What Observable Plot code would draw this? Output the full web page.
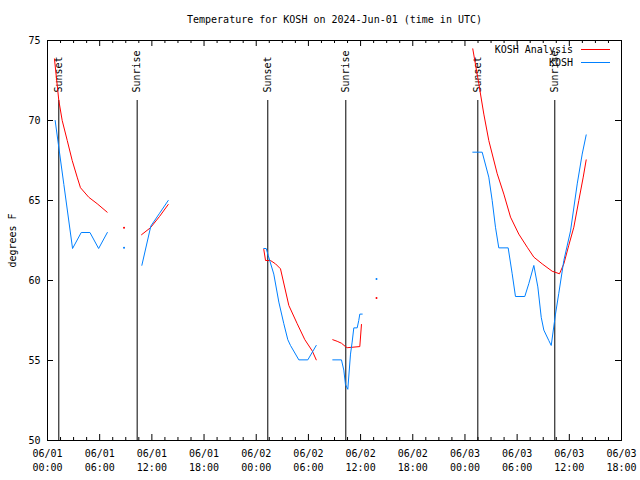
<!DOCTYPE html>
<html><head><meta charset="utf-8">
<script src="https://cdn.jsdelivr.net/npm/d3@7"></script>
<script src="https://cdn.jsdelivr.net/npm/@observablehq/plot@0.6"></script>
<style>body{margin:0;background:#fff}</style>
</head><body><div id="chart"></div>
<script>
const title = "Temperature for KOSH on 2024-Jun-01 (time in UTC)";
const yLabel = "degrees F";
const startUTC = Date.UTC(2024, 5, 1);
const seriesNames = ["KOSH Analysis", "KOSH"];
const seriesColors = ["#ff0000", "#0080ff"];

// hours since 2024-06-01 00:00 UTC; NaN temperature = missing data (gap)
const analysisHours = [0.80,1.30,1.69,2.27,2.84,3.41,3.79,4.75,5.71,6.86, 7.8, 8.80, 9.8,
  10.81,11.84,12.88,13.88, 20,
  24.87,25.07,25.64,26.22,26.79,27.75,28.71,29.59,30.44,30.90, 31.8,
  32.80,33.31,33.80,34.26,34.46,35.91,36.10, 37.0, 37.83, 40,
  48.90,49.59,50.17,50.74,51.71,52.47,53.24,54.19,55.16,55.92,56.88,58.03,58.87,59.37,59.94,60.52,61.09,61.60,61.94];
const analysisTemps = [73.85,71.25,70.0,68.75,67.5,66.46,65.8,65.2,64.8,64.27, NaN, 63.3, NaN,
  62.86,63.3,64.0,64.75, NaN,
  61.94,61.25,61.25,61.04,60.73,58.44,57.3,56.3,55.6,55.04, NaN,
  56.3,56.2,56.08,55.87,55.8,55.87,57.25, NaN, 58.9, NaN,
  74.48,72.3,70.4,68.75,66.67,65.4,63.96,62.9,62.08,61.46,61.04,60.58,60.42,61.04,62.2,63.33,65.0,66.46,67.54];

const obsHours = [0.88,1.88,2.88,3.88,4.88,5.88,6.88, 7.8, 8.80, 9.8,
  10.85,11.88,12.88,13.88, 20,
  24.87,25.15,25.38,26.02,26.60,27.17,27.63,27.94,28.90,29.93,30.90, 31.8,
  32.80,33.80,34.07,34.26,34.53,34.84,35.03,35.22,35.61,35.79,35.91,36.19, 37.0, 37.83, 40,
  48.90,49.98,50.74,51.13,51.51,51.89,52.97,53.43,53.81,54.88,55.34,55.92,56.38,56.77,57.07,57.64,57.92,58.41,58.79,59.37,60.14,60.91,61.48,61.94];
const obsTemps = [70,66,62,63,63,62,63, NaN, 62.05, NaN,
  60.95,63.4,64.2,65.0, NaN,
  62.0,62.0,61.56,60.4,58.65,57.3,56.3,55.94,55.04,55.04,55.94, NaN,
  55.04,55.04,54.4,53.5,53.2,55.4,56.15,57.04,57.04,57.5,57.9,57.9, NaN, 60.1, NaN,
  68.02,68.02,66.46,65.0,63.33,62.04,62.04,60.42,59.0,59.0,59.8,60.94,59.6,57.7,56.9,56.25,55.94,57.9,59.2,61.25,63.1,66.04,67.9,69.1];

const eventHours = [1.30, 10.31, 25.33, 34.30, 49.48, 58.33];
const eventNames = ["Sunset", "Sunrise", "Sunset", "Sunrise", "Sunset", "Sunrise"];

const majorTickHours = [0, 6, 12, 18, 24, 30, 36, 42, 48, 54, 60, 66];
const minorTickHours = [1.5,3,4.5, 7.5,9,10.5, 13.5,15,16.5, 19.5,21,22.5, 25.5,27,28.5, 31.5,33,34.5,
  37.5,39,40.5, 43.5,45,46.5, 49.5,51,52.5, 55.5,57,58.5, 61.5,63,64.5];
const yTicks = [50, 55, 60, 65, 70, 75];

const toDate = h => new Date(startUTC + h * 3600000);
const rows = (hours, temps) => hours.map((h, i) => ({t: toDate(h), v: temps[i]}));
const isolated = r => r.filter((d, i) => !isNaN(d.v) && (i === 0 || isNaN(r[i-1].v)) && (i === r.length-1 || isNaN(r[i+1].v)));

const analysis = rows(analysisHours, analysisTemps);
const obs = rows(obsHours, obsTemps);
const events = eventHours.map((h, i) => ({t: toDate(h), name: eventNames[i]}));
const majors = majorTickHours.map(toDate);
const minors = minorTickHours.map(toDate);

const W = 640, H = 480, mL = 47, mR = 19, mT = 40, mB = 40;
const fw = W - mL - mR, fh = H - mT - mB;

const plot = Plot.plot({
  width: W, height: H, marginLeft: mL, marginRight: mR, marginTop: mT, marginBottom: mB,
  style: {fontFamily: "'DejaVu Sans Mono', monospace", fontSize: "10px", color: "black", background: "white"},
  x: {type: "utc", domain: [toDate(0), toDate(66)]},
  y: {domain: [50, 75]},
  marks: [
    Plot.ruleX(events, {x: "t", insetTop: 60, stroke: "black", strokeWidth: 1}),
    Plot.text(events, {x: "t", text: "name", frameAnchor: "top", dy: 52, rotate: -90, textAnchor: "start", lineAnchor: "middle", fill: "black"}),
    Plot.line(analysis, {x: "t", y: "v", stroke: seriesColors[0], strokeWidth: 1}),
    Plot.line(obs, {x: "t", y: "v", stroke: seriesColors[1], strokeWidth: 1}),
    Plot.dot(isolated(analysis), {x: "t", y: "v", r: 1, fill: seriesColors[0], stroke: null}),
    Plot.dot(isolated(obs), {x: "t", y: "v", r: 1, fill: seriesColors[1], stroke: null}),
    Plot.ruleX(majors, {x: d => d, insetTop: fh - 6, stroke: "black"}),
    Plot.ruleX(majors, {x: d => d, insetBottom: fh - 6, stroke: "black"}),
    Plot.ruleX(minors, {x: d => d, insetTop: fh - 3, stroke: "black"}),
    Plot.ruleX(minors, {x: d => d, insetBottom: fh - 3, stroke: "black"}),
    Plot.ruleY(yTicks, {y: d => d, insetRight: fw - 6, stroke: "black"}),
    Plot.ruleY(yTicks, {y: d => d, insetLeft: fw - 6, stroke: "black"}),
    Plot.frame({stroke: "black"}),
    Plot.axisX(majors, {tickSize: 0, tickPadding: 9, tickFormat: d3.utcFormat("%m/%d"), label: null}),
    Plot.axisX(majors, {tickSize: 0, tickPadding: 23, tickFormat: d3.utcFormat("%H:%M"), label: null}),
    Plot.axisY(yTicks, {tickSize: 0, tickPadding: 7, label: null}),
    Plot.text([title], {text: d => d, frameAnchor: "top", dy: -21, lineAnchor: "middle", fill: "black"}),
    Plot.text([yLabel], {text: d => d, frameAnchor: "left", dx: -35, rotate: -90, lineAnchor: "middle", textAnchor: "middle", fill: "black"})
  ]
});
document.getElementById("chart").appendChild(plot);

// legend (top-right inside frame)
const svg = d3.select(plot);
const lg = svg.append("g").attr("font-family", "'DejaVu Sans Mono', monospace").attr("font-size", 10);
seriesNames.forEach((name, i) => {
  const y = mT + 10 + i * 13;
  lg.append("text").attr("x", W - mR - 48).attr("y", y).attr("dy", "0.32em").attr("text-anchor", "end").attr("fill", "black").text(name);
  lg.append("line").attr("x1", W - mR - 40).attr("x2", W - mR - 11).attr("y1", y - 0.5).attr("y2", y - 0.5).attr("stroke", seriesColors[i]).attr("stroke-width", 1);
});
</script>
</body></html>
